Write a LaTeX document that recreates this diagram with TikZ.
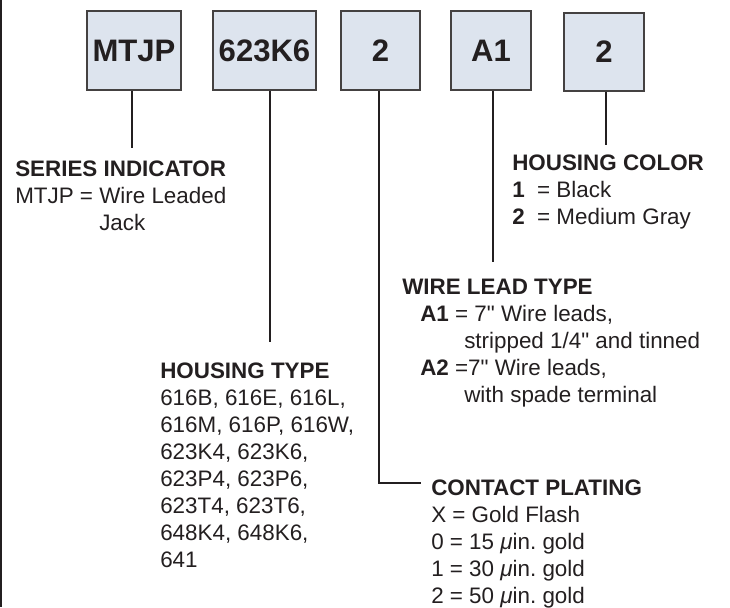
\documentclass[tikz,border=0pt]{standalone}
\usepackage{fontspec}
\setmainfont{Liberation Sans}[Ligatures=TeXOff]
\usetikzlibrary{positioning}
\definecolor{boxfill}{RGB}{221,228,238}
\definecolor{ink}{RGB}{35,31,32}
\frenchspacing

\begin{document}
\begin{tikzpicture}[x=0.75pt,y=-0.75pt,
    code/.style={draw=ink!85,line width=0.8pt,fill=boxfill,text=ink,
      minimum height=59.25pt,inner sep=0pt,
      font=\fontsize{23.3}{28}\selectfont\bfseries},
    info/.style={anchor=base west,align=left,inner sep=0pt,text=ink,
      font=\fontsize{16.8}{20.25}\selectfont},
    lead/.style={draw=ink,line width=1.5pt}]
  \useasboundingbox (0,0) rectangle (730,607);
  \draw[ink,line width=2pt] (1,0) -- (1,607);
  % part number boxes
  \node[code,minimum width=70.5pt] (series) at (134,50.5) {MTJP};
  \node[code,minimum width=77.25pt] (housing) at (264.5,50.5) {623K6};
  \node[code,minimum width=59.25pt] (plating) at (380.5,50.5) {2};
  \node[code,minimum width=60pt] (wire) at (491,50.5) {A1};
  \node[code,minimum width=60pt,minimum height=58.5pt] (color) at (604,52) {2};
  % descriptions (placed at the baseline of their last line)
  \node[info] (seriestxt) at (15,230) {\textbf{SERIES INDICATOR}\\MTJP = Wire Leaded\\\phantom{MTJP = }Jack};
  \node[info] (colortxt) at (512,224) {\textbf{HOUSING COLOR}\\\textbf{1}\ \ = Black\\\textbf{2}\ \ = Medium Gray};
  \node[info] (wiretxt) at (402,402) {\textbf{WIRE LEAD TYPE}\\
    \hspace*{13.5pt}\textbf{A1} = 7" Wire leads,\\
    \hspace*{46.5pt}stripped 1/4" and tinned\\
    \hspace*{13.5pt}\textbf{A2} =7" Wire leads,\\
    \hspace*{46.5pt}with spade terminal};
  \node[info] (housingtxt) at (160,567) {\textbf{HOUSING TYPE}\\616B, 616E, 616L,\\616M, 616P, 616W,\\623K4, 623K6,\\623P4, 623P6,\\623T4, 623T6,\\648K4, 648K6,\\641};
  \node[info] (platingtxt) at (431,603) {\textbf{CONTACT PLATING}\\X = Gold Flash\\0 = 15 {\itshape μ}in. gold\\1 = 30 {\itshape μ}in. gold\\2 = 50 {\itshape μ}in. gold};
  % leader lines
  \coordinate (seriesend) at (132,148);
  \coordinate (housingend) at (270,342);
  \coordinate (platingbend) at (379,483);
  \coordinate (platingend) at (421,483);
  \coordinate (wireend) at (493,262);
  \coordinate (colorend) at (606,145);
  \draw[lead] (series.south -| seriesend) -- (seriesend);
  \draw[lead] (housing.south -| housingend) -- (housingend);
  \draw[lead] (plating.south -| platingbend) -- (platingbend) -- (platingend);
  \draw[lead] (wire.south -| wireend) -- (wireend);
  \draw[lead] (color.south -| colorend) -- (colorend);
\end{tikzpicture}
\end{document}
